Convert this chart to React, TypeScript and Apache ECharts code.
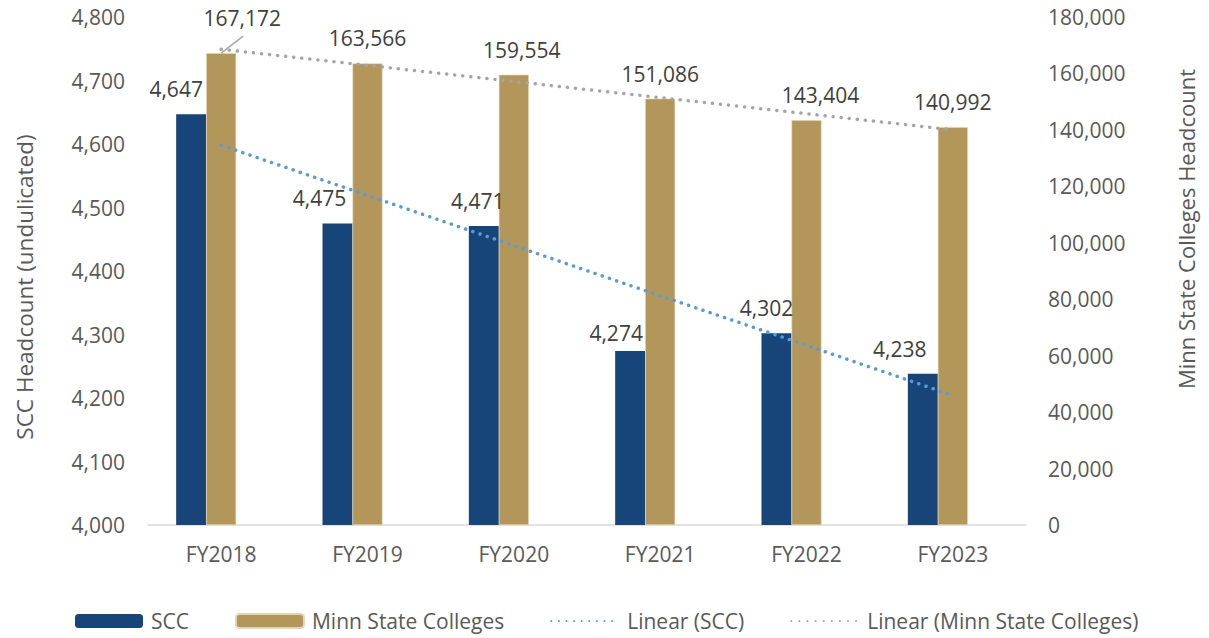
import React, { useEffect, useRef } from "react";
import * as echarts from "echarts";

const categories = ["FY2018", "FY2019", "FY2020", "FY2021", "FY2022", "FY2023"];
const sccValues = [4647, 4475, 4471, 4274, 4302, 4238];
const minnValues = [167172, 163566, 159554, 151086, 143404, 140992];
// linear trend values
const sccTrend = [4598, 4519, 4440, 4361, 4283, 4204];
const minnTrend = [168571, 162861, 157151, 151441, 145731, 140020];
const leftTicks = { min: 4000, max: 4800, interval: 100 };
const rightTicks = { min: 0, max: 180000, interval: 20000 };

// manual label shifts (styling)
const sccLabelDx = [-15, -18, -6, -14, -10, -23];
const sccLabelDy = [0, 0, 0, 7, 0, 0];
const minnLabelDx = [21, 0, 8, 0, 14, 0];
const minnLabelDy = [-10, 0, 0, 0, 0, 0];

const FONT = "'Open Sans', sans-serif";
const fmt = (v: number) => v.toLocaleString("en-US");

export default function App() {
  const ref = useRef<HTMLDivElement>(null);
  useEffect(() => {
    if (!ref.current) return;
    const chart = echarts.init(ref.current, undefined, { renderer: "svg" });
    const tickStyle = { color: "#595959", fontSize: 21, fontFamily: FONT, lineHeight: 22 };
    const labelStyle = {
      show: true,
      position: "top" as const,
      distance: 14,
      color: "#404040",
      fontSize: 21,
      lineHeight: 22,
      fontFamily: FONT,
      formatter: (p: any) => fmt(p.value),
    };
    const hideDot = { opacity: 0 };
    chart.setOption({
      animation: false,
      textStyle: { fontFamily: FONT },
      grid: { left: 148, right: 183, top: 17, bottom: 113, containLabel: false },
      legend: {
        left: 75,
        top: 610,
        padding: 0,
        itemWidth: 68,
        itemHeight: 14,
        itemGap: 46,
        data: [
          { name: "SCC" },
          { name: "Minn State Colleges" },
          { name: "Linear (SCC)", itemStyle: hideDot },
          { name: "Linear (Minn State Colleges)", itemStyle: hideDot },
        ],
        textStyle: { color: "#595959", fontSize: 21, fontFamily: FONT, lineHeight: 22, padding: [0, 0, 0, 3] },
      },
      xAxis: {
        type: "category",
        data: categories,
        axisLine: { show: true, lineStyle: { color: "#D9D9D9", width: 1.5 } },
        axisTick: { show: false },
        axisLabel: { ...tickStyle, margin: 18 },
      },
      yAxis: [
        {
          type: "value",
          ...leftTicks,
          name: "SCC Headcount (undulicated)",
          nameLocation: "middle",
          nameRotate: 90,
          nameGap: 111,
          nameTextStyle: { color: "#595959", fontSize: 22.5, fontFamily: FONT, lineHeight: 26, padding: [0, 32, 0, 0] },
          splitLine: { show: false },
          axisLine: { show: false },
          axisTick: { show: false },
          axisLabel: { ...tickStyle, margin: 23, formatter: (v: number) => fmt(v) },
        },
        {
          type: "value",
          ...rightTicks,
          position: "right",
          name: "Minn State Colleges Headcount",
          nameLocation: "middle",
          nameRotate: 90,
          nameGap: 147,
          nameTextStyle: { color: "#595959", fontSize: 22, fontFamily: FONT, lineHeight: 26, padding: [0, 0, 0, 84] },
          splitLine: { show: false },
          axisLine: { show: false },
          axisTick: { show: false },
          axisLabel: { ...tickStyle, margin: 22, formatter: (v: number) => fmt(v) },
        },
      ],
      series: [
        {
          name: "SCC",
          type: "bar",
          yAxisIndex: 0,
          data: sccValues,
          barWidth: 30,
          barGap: "0%",
          itemStyle: { color: "#17457A" },
          label: labelStyle,
          labelLayout: (p: any) => ({ dx: sccLabelDx[p.dataIndex], dy: sccLabelDy[p.dataIndex] }),
        },
        {
          name: "Minn State Colleges",
          type: "bar",
          yAxisIndex: 1,
          data: minnValues,
          barWidth: 30,
          barGap: "0%",
          itemStyle: { color: "#B3965A", borderColor: "#E2D6B8", borderWidth: 0.6 },
          label: labelStyle,
          labelLayout: (p: any) => ({ dx: minnLabelDx[p.dataIndex], dy: minnLabelDy[p.dataIndex] }),
        },
        {
          name: "spacer",
          type: "bar",
          yAxisIndex: 0,
          data: [],
          barWidth: 30,
          barGap: "0%",
        },
        {
          name: "Linear (SCC)",
          type: "line",
          yAxisIndex: 0,
          data: sccTrend,
          symbol: "none",
          z: 5,
          itemStyle: { color: "#5B9BD5" },
          lineStyle: { color: "#5B9BD5", width: 3.5, type: [0.1, 7.5], cap: "round" },
        },
        {
          name: "Linear (Minn State Colleges)",
          type: "line",
          yAxisIndex: 1,
          data: minnTrend,
          symbol: "none",
          z: 5,
          itemStyle: { color: "#A5A5A5" },
          lineStyle: { color: "#A5A5A5", width: 3.5, type: [0.1, 8], cap: "round" },
        },
      ],
    });
    // leader line from the first Minn State label to its bar top
    const top = chart.convertToPixel({ xAxisIndex: 0, yAxisIndex: 1 }, [categories[0], minnValues[0]]) as number[];
    if (top && isFinite(top[0])) {
      chart.setOption({
        graphic: [
          {
            type: "line",
            z: 10,
            shape: { x1: top[0], y1: top[1], x2: top[0] + 22, y2: top[1] - 17 },
            style: { stroke: "#A6A6A6", lineWidth: 1.5 },
          },
        ],
      });
    }
    return () => chart.dispose();
  }, []);
  return <div ref={ref} style={{ width: 1209, height: 638, position: "absolute", left: 0, top: 0 }} />;
}
